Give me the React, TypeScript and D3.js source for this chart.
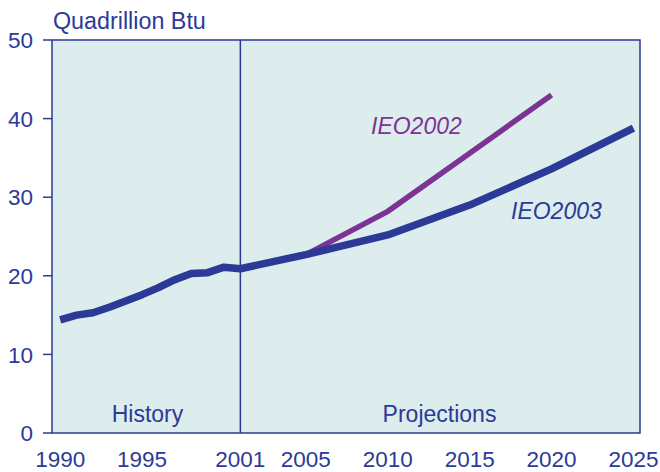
import React, { useEffect, useRef } from "react";
import * as d3 from "d3";

const histYears = [1990, 1991, 1992, 1993, 1994, 1995, 1996, 1997, 1998, 1999, 2000, 2001];
const histValues = [14.4, 15.0, 15.3, 16.0, 16.8, 17.6, 18.5, 19.5, 20.3, 20.4, 21.1, 20.9];

const ieo2003Years = [2001, 2005, 2010, 2015, 2020, 2025];
const ieo2003Values = [20.9, 22.7, 25.2, 29.0, 33.6, 38.8];

const ieo2002Years = [2005, 2010, 2015, 2020];
const ieo2002Values = [22.7, 28.2, 35.6, 43.0];

const xTicks = [1990, 1995, 2001, 2005, 2010, 2015, 2020, 2025];
const yTicks = [0, 10, 20, 30, 40, 50];

const width = 660;
const height = 472;
const marginLeft = 52;
const marginRight = 20;
const marginTop = 40;
const marginBottom = 39;

const blue = "#2a3a96";
const purple = "#7b3494";
const textColor = "#2b3a97";
const bg = "#ddecec";

const App = () => {
  const svgRef = useRef(null);

  useEffect(() => {
    const svg = d3.select(svgRef.current);
    svg.selectAll("*").remove();

    const x = d3
      .scaleLinear()
      .domain([1989.5, 2025.4])
      .range([marginLeft, width - marginRight]);

    const y = d3
      .scaleLinear()
      .domain([0, 50])
      .range([height - marginBottom, marginTop]);

    const font = "Liberation Sans, Arial, sans-serif";

    // plot background
    svg
      .append("rect")
      .attr("x", marginLeft)
      .attr("y", marginTop)
      .attr("width", width - marginRight - marginLeft)
      .attr("height", height - marginBottom - marginTop)
      .attr("fill", bg)
      .attr("stroke", blue)
      .attr("stroke-width", 1.5);

    // history / projections divider
    svg
      .append("line")
      .attr("x1", x(2001))
      .attr("x2", x(2001))
      .attr("y1", marginTop)
      .attr("y2", height - marginBottom)
      .attr("stroke", blue)
      .attr("stroke-width", 1.5);

    // y axis ticks + labels
    const yAxis = svg.append("g");
    yAxis
      .selectAll("line")
      .data(yTicks)
      .enter()
      .append("line")
      .attr("x1", marginLeft - 9)
      .attr("x2", marginLeft)
      .attr("y1", (d) => y(d))
      .attr("y2", (d) => y(d))
      .attr("stroke", blue)
      .attr("stroke-width", 1.5);
    yAxis
      .selectAll("text")
      .data(yTicks)
      .enter()
      .append("text")
      .attr("x", 33)
      .attr("y", (d) => y(d))
      .attr("dy", "0.36em")
      .attr("text-anchor", "end")
      .attr("fill", textColor)
      .style("font-family", font)
      .style("font-size", "22.5px")
      .text((d) => d);

    // x labels
    svg
      .append("g")
      .selectAll("text")
      .data(xTicks)
      .enter()
      .append("text")
      .attr("x", (d) => x(d))
      .attr("y", 467)
      .attr("text-anchor", "middle")
      .attr("fill", textColor)
      .style("font-family", font)
      .style("font-size", "22.5px")
      .text((d) => d);

    svg
      .append("text")
      .attr("x", 53)
      .attr("y", 29)
      .attr("fill", textColor)
      .style("font-family", font)
      .style("font-size", "23.3px")
      .text("Quadrillion Btu");

    const line = d3
      .line<[number, number]>()
      .x((d) => x(d[0]))
      .y((d) => y(d[1]));

    // IEO2002 first so the blue line sits on top
    svg
      .append("path")
      .datum(ieo2002Years.map((yr, i) => [yr, ieo2002Values[i]] as [number, number]))
      .attr("fill", "none")
      .attr("stroke", purple)
      .attr("stroke-width", 5.5)
      .attr("d", line);

    svg
      .append("path")
      .datum(
        histYears
          .map((yr, i) => [yr, histValues[i]] as [number, number])
          .concat(ieo2003Years.slice(1).map((yr, i) => [yr, ieo2003Values[i + 1]] as [number, number]))
      )
      .attr("fill", "none")
      .attr("stroke", blue)
      .attr("stroke-width", 7.5)
      .attr("stroke-linejoin", "round")
      .attr("d", line);

    // annotations
    svg
      .append("text")
      .attr("x", 147.5)
      .attr("y", 422)
      .attr("text-anchor", "middle")
      .attr("fill", textColor)
      .style("font-family", font)
      .style("font-size", "23px")
      .text("History");
    svg
      .append("text")
      .attr("x", 439.5)
      .attr("y", 422)
      .attr("text-anchor", "middle")
      .attr("fill", textColor)
      .style("font-family", font)
      .style("font-size", "23px")
      .text("Projections");
    svg
      .append("text")
      .attr("x", 371)
      .attr("y", 134)
      .attr("fill", purple)
      .style("font-family", font)
      .style("font-size", "23px")
      .style("font-style", "italic")
      .text("IEO2002");
    svg
      .append("text")
      .attr("x", 511)
      .attr("y", 219)
      .attr("fill", textColor)
      .style("font-family", font)
      .style("font-size", "23px")
      .style("font-style", "italic")
      .text("IEO2003");
  }, []);

  return (
    <svg
      ref={svgRef}
      width={width}
      height={height}
      style={{ position: "absolute", left: 0, top: 0, background: "#fff" }}
    ></svg>
  );
};

export default App;
